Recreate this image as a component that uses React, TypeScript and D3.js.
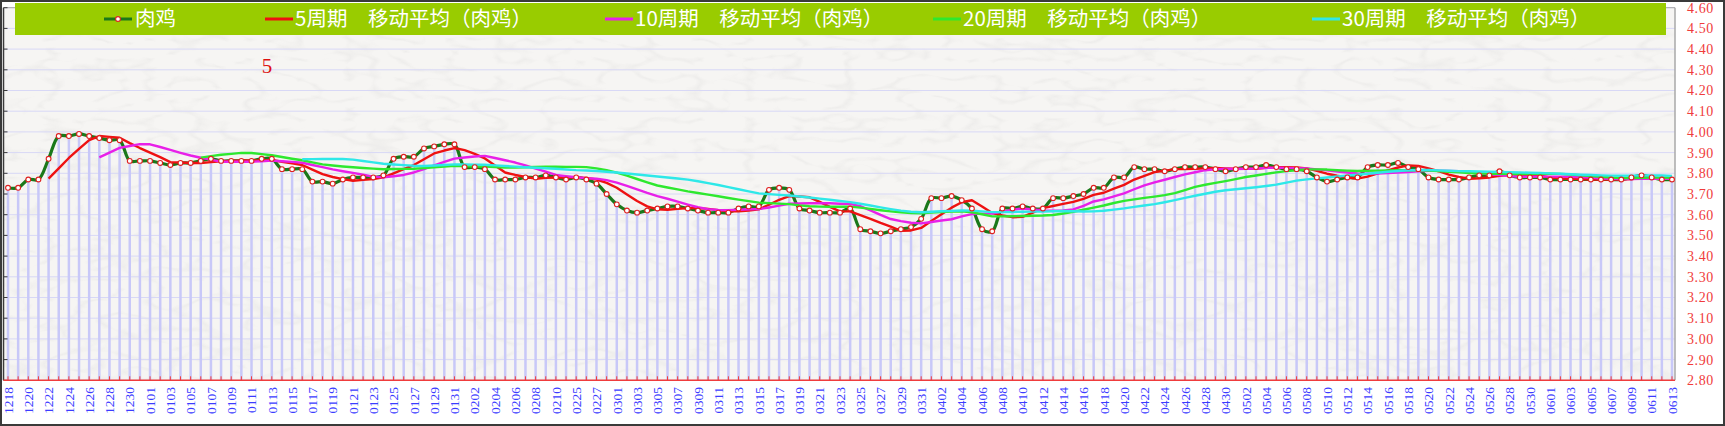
import React from 'react';
import * as d3 from 'd3';

// ---------- data ----------
const dates: string[] = [
  '1218','1219','1220','1221','1222','1223','1224','1225','1226','1227','1228','1229','1230','1231',
  '0101','0102','0103','0104','0105','0106','0107','0108','0109','0110','0111','0112','0113','0114','0115','0116',
  '0117','0118','0119','0120','0121','0122','0123','0124','0125','0126','0127','0128','0129','0130','0131',
  '0201','0202','0203','0204','0205','0206','0207','0208','0209','0210','0224','0225','0226','0227','0228',
  '0301','0302','0303','0304','0305','0306','0307','0308','0309','0310','0311','0312','0313','0314','0315','0316',
  '0317','0318','0319','0320','0321','0322','0323','0324','0325','0326','0327','0328','0329','0330','0331',
  '0401','0402','0403','0404','0405','0406','0407','0408','0409','0410','0411','0412','0413','0414','0415',
  '0416','0417','0418','0419','0420','0421','0422','0423','0424','0425','0426','0427','0428','0429','0430',
  '0501','0502','0503','0504','0505','0506','0507','0508','0509','0510','0511','0512','0513','0514','0515','0516',
  '0517','0518','0519','0520','0521','0522','0523','0524','0525','0526','0527','0528','0529','0530','0531',
  '0601','0602','0603','0604','0605','0606','0607','0608','0609','0610','0611','0612','0613',
];

const chickenPrice: number[] = [
  3.73, 3.73, 3.77, 3.77, 3.87, 3.98, 3.98, 3.99, 3.98, 3.97,
  3.96, 3.96, 3.86, 3.86, 3.86, 3.85, 3.84, 3.85, 3.85, 3.86,
  3.87, 3.86, 3.86, 3.86, 3.86, 3.87, 3.87, 3.82, 3.82, 3.82,
  3.76, 3.76, 3.75, 3.77, 3.78, 3.78, 3.78, 3.79, 3.87, 3.88,
  3.88, 3.92, 3.93, 3.94, 3.94, 3.83, 3.83, 3.82, 3.77, 3.77,
  3.77, 3.78, 3.78, 3.79, 3.78, 3.77, 3.78, 3.77, 3.75, 3.70,
  3.65, 3.62, 3.61, 3.62, 3.63, 3.64, 3.64, 3.63, 3.62, 3.61,
  3.61, 3.61, 3.63, 3.64, 3.64, 3.72, 3.73, 3.72, 3.63, 3.62,
  3.61, 3.61, 3.61, 3.63, 3.53, 3.52, 3.51, 3.52, 3.53, 3.54,
  3.58, 3.68, 3.68, 3.69, 3.67, 3.63, 3.53, 3.52, 3.63, 3.63,
  3.64, 3.63, 3.63, 3.68, 3.68, 3.69, 3.70, 3.73, 3.73, 3.78,
  3.78, 3.83, 3.82, 3.82, 3.81, 3.82, 3.83, 3.83, 3.83, 3.82,
  3.81, 3.82, 3.83, 3.83, 3.84, 3.83, 3.82, 3.82, 3.81, 3.78,
  3.76, 3.77, 3.78, 3.78, 3.83, 3.84, 3.84, 3.85, 3.83, 3.82,
  3.78, 3.77, 3.77, 3.77, 3.78, 3.79, 3.79, 3.81, 3.79, 3.78,
  3.78, 3.78, 3.77, 3.77, 3.77, 3.77, 3.77, 3.77, 3.77, 3.77,
  3.78, 3.79, 3.78, 3.77, 3.77,
];

const maPeriods: number[] = [5, 10, 20, 30];
const seriesName = '肉鸡';
const maNames: string[] = maPeriods.map((p) => `${p}周期\u3000移动平均（${seriesName}）`);
const yTicks: number[] = [2.8, 2.9, 3.0, 3.1, 3.2, 3.3, 3.4, 3.5, 3.6, 3.7, 3.8, 3.9, 4.0, 4.1, 4.2, 4.3, 4.4, 4.5, 4.6];

// ---------- styles ----------
const W = 1725;
const H = 426;
const MAIN_COLOR = '#1a781a';
const MA_COLORS = ['#ee1111', '#e820e8', '#2ee82e', '#2ee8e8'];
const BAR_COLOR = '#c8c8f8';
const GRID_COLOR = '#d8d8f6';
const LEGEND_BG = '#99cc00';
const legendSymbolX = [104, 265, 605, 933, 1312];

function movingAverage(vals: number[], p: number): [number, number][] {
  const out: [number, number][] = [];
  for (let i = p - 1; i < vals.length; i++) {
    out.push([i, d3.mean(vals.slice(i - p + 1, i + 1)) as number]);
  }
  return out;
}

export default function App() {
  const plotL = 3.5;
  const plotR = 1675;
  const x = d3.scaleLinear().domain([0, chickenPrice.length - 1]).range([8, 1672]);
  const y = d3.scaleLinear().domain([2.8, 4.6]).range([380.3, 7.7]);
  const yBottom = y(2.8);
  const yTop = y(4.6);

  const mainLine = d3
    .line<number>()
    .x((_, i) => x(i))
    .y((d) => y(d))
    .curve(d3.curveCatmullRom.alpha(0.5));

  const maLine = d3
    .line<[number, number]>()
    .x((d) => x(d[0]))
    .y((d) => y(d[1]))
    .curve(d3.curveLinear);

  const mas = maPeriods.map((p) => movingAverage(chickenPrice, p));

  return (
    <svg
      width={W}
      height={H}
      style={{ position: 'absolute', left: 0, top: 0, background: '#ffffff' }}
      xmlns="http://www.w3.org/2000/svg"
    >
      <defs>
        <filter id="paper" x="0" y="0" width="100%" height="100%">
          <feTurbulence type="turbulence" baseFrequency="0.02 0.05" numOctaves="2" seed="11" result="n" />
          <feColorMatrix
            in="n"
            type="matrix"
            values="0 0 0 0 0.5  0 0 0 0 0.5  0 0 0 0 0.5  0 0 0 -6 1.1"
          />
        </filter>
      </defs>

      {/* plot background */}
      <rect x={plotL} y={yTop} width={plotR - plotL} height={yBottom - yTop} fill="#f6f5f3" />
      <rect x={plotL} y={yTop} width={plotR - plotL} height={yBottom - yTop} filter="url(#paper)" opacity={0.12} />

      {/* gridlines */}
      {yTicks.map((t) => (
        <line key={'g' + t} x1={plotL} x2={plotR} y1={y(t)} y2={y(t)} stroke={GRID_COLOR} strokeWidth={1} />
      ))}

      {/* bars */}
      {chickenPrice.map((v, i) => (
        <rect key={'b' + i} x={x(i) - 1.25} y={y(v)} width={2.5} height={yBottom - y(v)} fill={BAR_COLOR} />
      ))}

      {/* plot border */}
      <line x1={plotR} x2={plotR} y1={yTop} y2={yBottom} stroke="#a8a8a8" strokeWidth={1.5} />
      <line x1={plotL} x2={plotR} y1={yTop} y2={yTop} stroke="#a8a8a8" strokeWidth={1} />

      {/* left axis */}
      <line x1={plotL} x2={plotL} y1={yTop} y2={yBottom} stroke="#3a3a3a" strokeWidth={1.5} />
      {yTicks.map((t) => (
        <line key={'lt' + t} x1={plotL} x2={plotL + 4} y1={y(t)} y2={y(t)} stroke="#3a3a3a" strokeWidth={1} />
      ))}

      {/* bottom axis */}
      <line x1={plotL} x2={plotR} y1={yBottom} y2={yBottom} stroke="#f03c3c" strokeWidth={1.5} />
      {chickenPrice.map((_, i) => (
        <line key={'xt' + i} x1={x(i)} x2={x(i)} y1={yBottom} y2={yBottom - 4} stroke="#f03c3c" strokeWidth={1} />
      ))}

      {/* main series */}
      <path d={mainLine(chickenPrice) || ''} fill="none" stroke={MAIN_COLOR} strokeWidth={3.2} strokeLinejoin="round" />

      {/* moving averages */}
      {mas.map((m, k) => (
        <path key={'ma' + k} d={maLine(m) || ''} fill="none" stroke={MA_COLORS[k]} strokeWidth={2.4} strokeLinejoin="round" />
      ))}

      {/* markers */}
      {chickenPrice.map((v, i) => (
        <circle key={'m' + i} cx={x(i)} cy={y(v)} r={2.4} fill="#ffffff" stroke="#e02020" strokeWidth={1.1} />
      ))}

      {/* right axis labels */}
      {yTicks.map((t) => (
        <text
          key={'yl' + t}
          x={1687}
          y={y(t)}
          dy="0.35em"
          fill="#f03c3c"
          fontSize={14}
          fontFamily="'Liberation Serif', 'DejaVu Serif', serif"
          letterSpacing={0.6}
        >
          {t.toFixed(2)}
        </text>
      ))}

      {/* x labels */}
      {dates.map((d, i) =>
        i % 2 === 0 ? (
          <text
            key={'xl' + i}
            transform={`translate(${x(i)},387) rotate(-90)`}
            textAnchor="end"
            dy="0.35em"
            fill="#3c3cff"
            fontSize={13.5}
            fontFamily="'Liberation Serif', 'DejaVu Serif', serif"
          >
            {d}
          </text>
        ) : null
      )}

      {/* red annotation */}
      <text x={267} y={73} textAnchor="middle" fill="#dd1111" fontSize={21} fontFamily="'Liberation Serif', serif">
        5
      </text>

      {/* legend */}
      <rect x={15} y={3} width={1651} height={32} fill={LEGEND_BG} />
      <g>
        <line x1={legendSymbolX[0]} x2={legendSymbolX[0] + 28} y1={19} y2={19} stroke={MAIN_COLOR} strokeWidth={3} />
        <circle cx={legendSymbolX[0] + 14} cy={19} r={2.4} fill="#ffffff" stroke="#e02020" strokeWidth={1.1} />
        <text x={legendSymbolX[0] + 31} y={19} dy="0.36em" fill="#ffffff" fontSize={20.5} fontFamily="'Noto Sans CJK SC', sans-serif">
          {seriesName}
        </text>
      </g>
      {maNames.map((n, k) => (
        <g key={'lg' + k}>
          <line x1={legendSymbolX[k + 1]} x2={legendSymbolX[k + 1] + 28} y1={19} y2={19} stroke={MA_COLORS[k]} strokeWidth={3} />
          <text x={legendSymbolX[k + 1] + 30} y={19} dy="0.36em" fill="#ffffff" fontSize={20.5} fontFamily="'Noto Sans CJK SC', sans-serif">
            {n}
          </text>
        </g>
      ))}

      {/* outer frame */}
      <rect x={1} y={1} width={W - 2} height={H - 2} fill="none" stroke="#3a3a3a" strokeWidth={2} />
    </svg>
  );
}
